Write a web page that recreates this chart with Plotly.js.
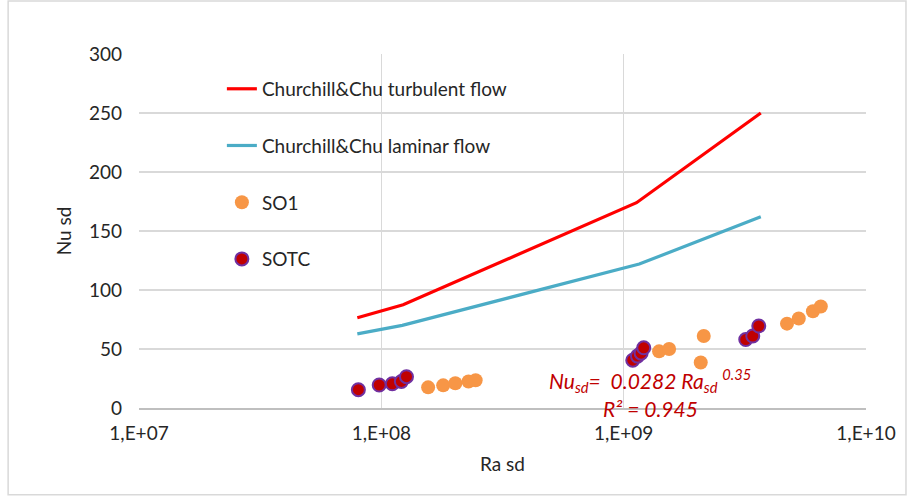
<!DOCTYPE html>
<html><head><meta charset="utf-8">
<script src="https://cdn.plot.ly/plotly-3.0.1.min.js"></script>
<style>html,body{margin:0;padding:0;background:#fff}#chart{width:912px;height:502px}</style>
</head><body><div id="chart"></div>
<script>
// Churchill & Chu correlations
const turbRa = [7.96e7, 1.23e8, 1.13e9, 3.68e9];
const turbNu = [76.5, 87.5, 174, 250];
const lamRa = [7.96e7, 1.22e8, 1.16e9, 3.68e9];
const lamNu = [62.8, 70, 122, 162];
// SO1 measurements
const so1Ra = [1.56e8, 1.80e8, 2.02e8, 2.29e8, 2.45e8, 1.40e9, 1.54e9, 2.08e9, 2.14e9, 4.72e9, 5.28e9, 6.04e9, 6.51e9];
const so1Nu = [17.5, 19.2, 21, 22.5, 23.5, 48, 50, 38.5, 61, 71.5, 75.8, 82, 86];
// SOTC measurements
const sotcRa = [8.04e7, 9.8e7, 1.11e8, 1.21e8, 1.27e8, 1.09e9, 1.14e9, 1.18e9, 1.21e9, 3.19e9, 3.41e9, 3.61e9];
const sotcNu = [15.5, 19.5, 20.5, 22.5, 26.5, 40.5, 44, 46.5, 51, 58, 61, 69.5];
// axis ticks
const xTickVals = [1e7, 1e8, 1e9, 1e10];
const xTickText = ['1,E+07', '1,E+08', '1,E+09', '1,E+10'];
const yTickVals = [0, 50, 100, 150, 200, 250, 300];

const FONT = 'Lato, "Noto Sans", sans-serif';
const TXT = '#262626';
const traces = [
  {x: turbRa, y: turbNu, mode: 'lines', name: 'Churchill&Chu turbulent flow',
   line: {color: '#FF0000', width: 3.2}, legendgroup: 'a'},
  {x: lamRa, y: lamNu, mode: 'lines', name: 'Churchill&Chu laminar flow',
   line: {color: '#4BACC6', width: 3.2}, legendgroup: 'b'},
  {x: so1Ra, y: so1Nu, mode: 'markers', name: 'SO1',
   marker: {color: '#F79646', size: 14, line: {width: 0}}, legendgroup: 'c'},
  {x: sotcRa, y: sotcNu, mode: 'markers', name: 'SOTC',
   marker: {color: '#C00000', size: 13, line: {color: '#7030A0', width: 2}}, legendgroup: 'd'}
];
const layout = {
  width: 912, height: 502,
  margin: {l: 139, r: 46, t: 54, b: 94},
  paper_bgcolor: '#fff', plot_bgcolor: '#fff',
  font: {family: FONT, size: 19, color: TXT},
  showlegend: true,
  legend: {x: 0.114, y: 0.955, xanchor: 'left', yanchor: 'top', bgcolor: 'rgba(0,0,0,0)',
           traceorder: 'grouped', tracegroupgap: 29, font: {family: FONT, size: 19, color: TXT}},
  xaxis: {type: 'log', range: [7, 10], tickvals: xTickVals, ticktext: xTickText,
          showgrid: true, gridcolor: '#D9D9D9', gridwidth: 1.5, zeroline: false,
          showline: true, linecolor: '#BFBFBF', linewidth: 1.5, ticks: '', ticklabelstandoff: 8,
          tickfont: {family: FONT, size: 19, color: TXT},
          title: {text: 'Ra sd', font: {family: FONT, size: 19, color: TXT}, standoff: 14}},
  yaxis: {range: [0, 300], tickvals: yTickVals, showgrid: true, gridcolor: '#D9D9D9', gridwidth: 1.5,
          zeroline: false, showline: false, ticks: '', ticklabelstandoff: 16,
          tickfont: {family: FONT, size: 19, color: TXT},
          title: {text: 'Nu sd', font: {family: FONT, size: 19, color: TXT}, standoff: 12}},
  annotations: [
    {xref: 'paper', yref: 'paper', x: 0.561, y: 0.078, xanchor: 'left', yanchor: 'middle', showarrow: false,
     text: '<i>Nu<sub>sd</sub>=  0.0282 Ra<sub>sd</sub> <sup>0.35</sup></i>', font: {family: FONT, size: 21, color: '#C00000'}},
    {xref: 'paper', yref: 'paper', x: 0.703, y: 0.0, xanchor: 'center', yanchor: 'middle', showarrow: false,
     text: '<i>R² = 0.945</i>', font: {family: FONT, size: 21, color: '#C00000'}}
  ],
  shapes: [
    {type: 'rect', xref: 'paper', yref: 'paper', x0: -0.18, x1: 1.055, y0: -0.245, y1: 1.15,
     line: {color: '#D9D9D9', width: 1.5}, fillcolor: 'rgba(0,0,0,0)', layer: 'below'}
  ]
};
Plotly.newPlot('chart', traces, layout, {displayModeBar: false, staticPlot: true});
</script>
</body></html>
